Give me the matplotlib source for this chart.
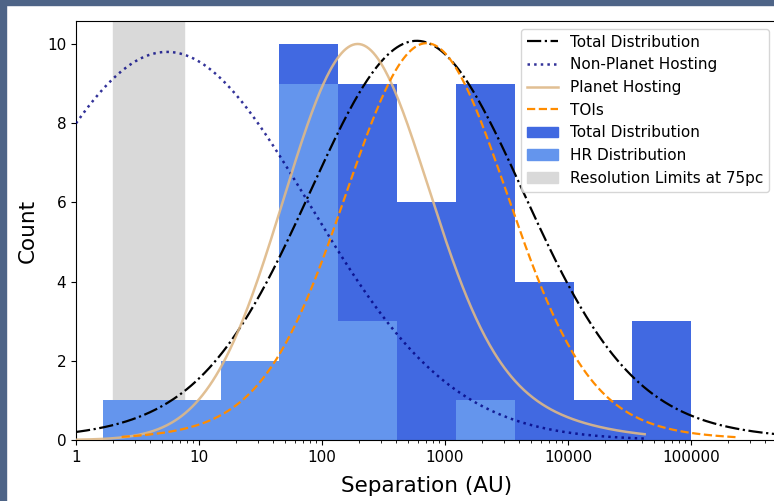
import numpy as np
import matplotlib
matplotlib.use("Agg")
import matplotlib.pyplot as plt
from matplotlib.patches import Rectangle, Patch
from matplotlib.ticker import FuncFormatter

# histogram bins (log-spaced)
bin_edges = [1.66, 5.0, 15.0, 45.0, 135.0, 407.0, 1225.0, 3690.0, 11100.0, 33300.0, 100000.0]
total_counts = [1, 1, 2, 10, 9, 6, 9, 4, 1, 3]
hr_counts = [1, 1, 2, 9, 3, 0, 1, 0, 0, 0]

# resolution limits at 75pc (AU)
res_lo, res_hi = 2.0, 7.5

# fitted curves in log10(sep): centre, core and wing parts (left/right widths), x range
curve_names = ['Total Distribution', 'Non-Planet Hosting', 'Planet Hosting', 'TOIs']
curve_mu = [2.77, 0.74, 2.29, 2.85]
core_amp = [8.48, 9.8, 7.8, 8.82]
core_sig_l = [0.84, 1.16, 0.60, 0.64]
core_sig_r = [0.84, 1.16, 0.55, 0.64]
wing_amp = [1.6, 0.0, 2.2, 1.2]
wing_sig_l = [1.3, 1.0, 0.62, 1.05]
wing_sig_r = [1.3, 1.0, 1.0, 1.05]
curve_lo = [1.0, 1.0, 1.0, 2.35]
curve_hi = [1e6, 4.2e4, 4.2e4, 2.3e5]
curve_style = [dict(color='black', ls='-.', lw=1.6),
               dict(color='navy', ls=':', lw=1.8, alpha=0.8),
               dict(color='burlywood', ls='-', lw=1.8, alpha=0.9),
               dict(color='darkorange', ls='--', lw=1.6)]

def profile(x, i):
    d = np.log10(x) - curve_mu[i]
    s1 = np.where(d < 0, core_sig_l[i], core_sig_r[i])
    s2 = np.where(d < 0, wing_sig_l[i], wing_sig_r[i])
    return core_amp[i]*np.exp(-d**2/(2*s1**2)) + wing_amp[i]*np.exp(-d**2/(2*s2**2))

W, H = 774, 501
fig = plt.figure(figsize=(W/100, H/100), dpi=100)
ax = fig.add_axes([76/W, 1-440/H, (777-76)/W, (440-21)/H])

ax.axvspan(res_lo, res_hi, color='#d9d9d9', zorder=0)

edges = np.array(bin_edges)
widths = np.diff(edges)
ax.bar(edges[:-1], total_counts, width=widths, align='edge', color='royalblue', zorder=1)
ax.bar(edges[:-1], hr_counts, width=widths, align='edge', color='cornflowerblue', zorder=1)

handles = []
for i, name in enumerate(curve_names):
    xx = np.logspace(np.log10(curve_lo[i]), np.log10(curve_hi[i]), 500)
    h, = ax.plot(xx, profile(xx, i), label=name, zorder=3, **curve_style[i])
    handles.append(h)

handles += [Patch(color='royalblue', label='Total Distribution'),
            Patch(color='cornflowerblue', label='HR Distribution'),
            Patch(color='#d9d9d9', label='Resolution Limits at 75pc')]

ax.set_xscale('log')
ax.set_xlim(1, 10**((777-76)/123))
ax.set_ylim(0, 10.58)
ax.xaxis.set_major_formatter(FuncFormatter(lambda v, p: f'{v:.0f}'))
ax.set_yticks([0, 2, 4, 6, 8, 10])
ax.tick_params(labelsize=11)
ax.set_xlabel('Separation (AU)', fontsize=15.5, labelpad=8)
ax.set_ylabel('Count', fontsize=15.5, labelpad=7)
ax.legend(handles=handles, loc='upper right', fontsize=11)

# dark frame from the screenshot
fig.patches.append(Rectangle((0, 0), 6/W, 1, transform=fig.transFigure,
                             color='#4e6487', zorder=10))
fig.patches.append(Rectangle((0, 1-5/H), 1, 5/H, transform=fig.transFigure,
                             color='#4e6487', zorder=10))

fig.savefig('out.png', dpi=100)
plt.close(fig)
